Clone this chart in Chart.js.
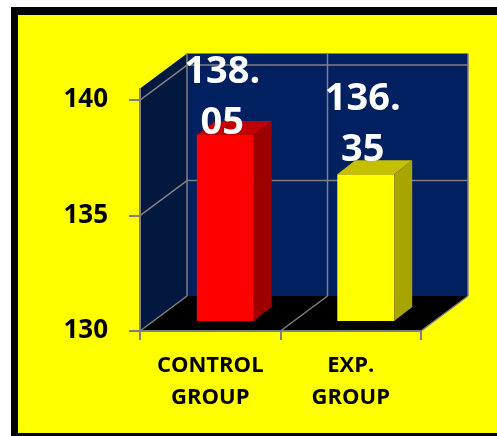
<!DOCTYPE html>
<html>
<head>
<meta charset="utf-8">
<script src="https://cdn.jsdelivr.net/npm/chart.js@4.4.1/dist/chart.umd.min.js"></script>
<style>
  html, body { margin: 0; padding: 0; background: #fff; }
  canvas { display: block; }
</style>
</head>
<body>
<canvas id="myChart" width="497" height="436"></canvas>
<script>
// groups on the x axis, two lines each
var groups = [["CONTROL", "GROUP"], ["EXP.", "GROUP"]];
// mean score for each group
var scores = [138.05, 136.35];
// value axis range and the ticks shown on it
var yMin = 130;
var yMax = 140.5;
var yTicks = [130, 135, 140];

// bar colours: front face, side face, top face
var frontColors = ["#ff0000", "#ffff00"];
var sideColors = ["#9e0000", "#a8a400"];
var topColors = ["#c00000", "#c4c000"];

// depth of the box (walls) and of each bar
var WALL_DX = 47, WALL_DY = -35;
var BAR_DX = 15, BAR_DY = -10;
var FACE_DX = 18, FACE_DY = -14;

var FONT = "'Open Sans', 'Liberation Sans', sans-serif";
var GRID = "#808080";

function poly(ctx, pts, fill) {
  ctx.beginPath();
  ctx.moveTo(pts[0][0], pts[0][1]);
  for (var i = 1; i < pts.length; i++) ctx.lineTo(pts[i][0], pts[i][1]);
  ctx.closePath();
  ctx.fillStyle = fill;
  ctx.fill();
}

function line(ctx, x1, y1, x2, y2) {
  ctx.beginPath();
  ctx.moveTo(x1, y1);
  ctx.lineTo(x2, y2);
  ctx.stroke();
}

// draws the frame, walls and floor, then gives the bars their depth
var box3d = {
  id: "box3d",
  beforeDraw: function (chart) {
    var ctx = chart.ctx;
    var a = chart.chartArea;
    var ys = chart.scales.y;
    var xs = chart.scales.x;
    ctx.save();

    // background and black frame
    ctx.fillStyle = "#ffffff";
    ctx.fillRect(0, 0, chart.width, chart.height);
    ctx.fillStyle = "#000000";
    ctx.fillRect(11, 7, chart.width, chart.height);
    ctx.fillStyle = "#ffff00";
    ctx.fillRect(18, 15, chart.width, 418);

    // back wall
    poly(ctx, [[a.left + WALL_DX, a.top + WALL_DY], [a.right + WALL_DX, a.top + WALL_DY],
               [a.right + WALL_DX, a.bottom + WALL_DY], [a.left + WALL_DX, a.bottom + WALL_DY]], "#002060");
    // side wall
    poly(ctx, [[a.left, a.top], [a.left + WALL_DX, a.top + WALL_DY],
               [a.left + WALL_DX, a.bottom + WALL_DY], [a.left, a.bottom]], "#02183f");
    // floor
    poly(ctx, [[a.left, a.bottom], [a.left + WALL_DX, a.bottom + WALL_DY],
               [a.right + WALL_DX, a.bottom + WALL_DY], [a.right, a.bottom]], "#000000");

    ctx.strokeStyle = GRID;
    ctx.lineWidth = 1.5;
    // horizontal gridlines on side and back walls
    yTicks.forEach(function (v) {
      if (v === yMin) return;
      var py = ys.getPixelForValue(v);
      line(ctx, a.left, py, a.left + WALL_DX, py + WALL_DY);
      line(ctx, a.left + WALL_DX, py + WALL_DY, a.right + WALL_DX, py + WALL_DY);
    });
    // category boundaries on floor and back wall
    var mid = (xs.getPixelForValue(0) + xs.getPixelForValue(1)) / 2;
    [a.left, mid, a.right].forEach(function (bx) {
      line(ctx, bx, a.bottom, bx + WALL_DX, a.bottom + WALL_DY);
      line(ctx, bx + WALL_DX, a.bottom + WALL_DY, bx + WALL_DX, a.top + WALL_DY);
    });
    ctx.restore();
  },
  beforeDatasetsDraw: function (chart) {
    chart.ctx.save();
    chart.ctx.translate(BAR_DX, BAR_DY);
  },
  afterDatasetsDraw: function (chart) {
    var ctx = chart.ctx;
    ctx.restore();
    var a = chart.chartArea;
    var backTop = a.top + WALL_DY;
    var meta = chart.getDatasetMeta(0);
    ctx.save();
    meta.data.forEach(function (bar, i) {
      var p = bar.getProps(["x", "y", "base", "width"], true);
      var left = p.x - p.width / 2 + BAR_DX;
      var right = p.x + p.width / 2 + BAR_DX;
      var top = p.y + BAR_DY;
      // the bar starts at zero, so cut it at the floor
      var bottom = Math.min(p.base, a.bottom) + BAR_DY;
      poly(ctx, [[right, top], [right + FACE_DX, top + FACE_DY],
                 [right + FACE_DX, bottom + FACE_DY], [right, bottom]], sideColors[i]);
      poly(ctx, [[left, top], [left + FACE_DX, top + FACE_DY],
                 [right + FACE_DX, top + FACE_DY], [right, top]], topColors[i]);

      // value label, wrapped after the decimal point
      var text = scores[i].toFixed(2);
      var cut = text.indexOf(".") + 1;
      var lines = [text.slice(0, cut), text.slice(cut)];
      var lh = 51;
      var last = Math.max(top + FACE_DY + 1, backTop + 29.5 + lh * (lines.length - 1));
      ctx.fillStyle = "#ffffff";
      ctx.font = "bold 38px " + FONT;
      ctx.textAlign = "center";
      ctx.textBaseline = "alphabetic";
      lines.forEach(function (s, k) {
        ctx.fillText(s, p.x + 12, last - lh * (lines.length - 1 - k));
      });
    });
    ctx.restore();
  }
};

var ctx = document.getElementById("myChart").getContext("2d");

var myBarChart = new Chart(ctx, {
  type: "bar",
  data: {
    labels: groups,
    datasets: [{
      data: scores,
      backgroundColor: frontColors,
      borderWidth: 0,
      categoryPercentage: 1,
      barPercentage: 0.405
    }]
  },
  options: {
    responsive: false,
    animation: false,
    devicePixelRatio: 1,
    layout: { padding: { left: 0, right: 76, top: 88.5, bottom: 0 } },
    plugins: { legend: { display: false }, tooltip: { enabled: false } },
    scales: {
      x: {
        afterFit: function (scale) { scale.height = 105; },
        grid: { offset: true, drawOnChartArea: false, drawTicks: true, tickLength: 9, color: GRID, lineWidth: 2 },
        border: { display: true, color: GRID, width: 2 },
        ticks: {
          color: "#000000",
          padding: 10,
          maxRotation: 0,
          autoSkip: false,
          font: { family: FONT, size: 22, weight: "bold", lineHeight: 32 / 22 }
        }
      },
      y: {
        min: yMin,
        max: yMax,
        afterFit: function (scale) { scale.width = 140; },
        afterBuildTicks: function (scale) {
          scale.ticks = yTicks.map(function (v) { return { value: v }; });
        },
        grid: { drawOnChartArea: false, drawTicks: true, tickLength: 11, color: GRID, lineWidth: 2 },
        border: { display: true, color: GRID, width: 2 },
        ticks: {
          color: "#000000",
          padding: 21,
          font: { family: FONT, size: 26, weight: "bold" }
        }
      }
    }
  },
  plugins: [box3d]
});
</script>
</body>
</html>
